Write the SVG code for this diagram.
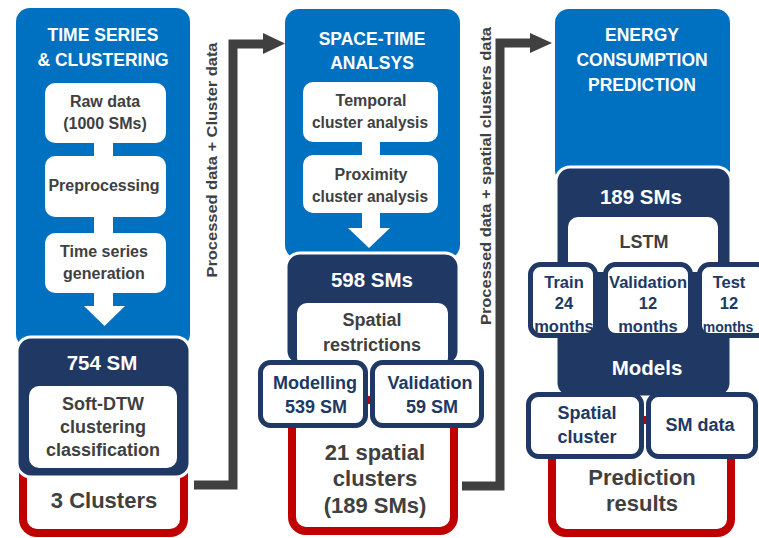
<svg xmlns="http://www.w3.org/2000/svg" width="759" height="538" viewBox="0 0 759 538">
  <defs>
    <style>
      .blue { fill: #0070C0; }
      .navy { fill: #203864; stroke: #ffffff; stroke-width: 3; }
      .red { fill: #ffffff; stroke: #C00000; stroke-width: 8; }
      .step { fill: #ffffff; }
      .sub { fill: #ffffff; stroke: #203864; stroke-width: 5; }
      .link { fill: none; stroke: #404040; stroke-width: 9; }
      .head { fill: #404040; }
      text { font-family: "Liberation Sans", Arial, sans-serif; font-weight: bold; text-anchor: middle; }
      .title { fill: #ffffff; font-size: 17.5px; }
      .count { fill: #ffffff; font-size: 20.5px; }
      .dark { fill: #404040; font-size: 16px; }
      .dark18 { fill: #404040; font-size: 18px; }
      .dsub { fill: #203864; font-size: 18px; }
      .period { fill: #203864; font-size: 16.5px; }
      .big { fill: #404040; font-size: 22px; }
      .edge { fill: #404040; font-size: 15px; }
    </style>
  </defs>

  <!-- connectors between the three stages -->
  <g id="connectors">
    <polyline class="link" points="194,485 233,485 233,44 265,44"/>
    <polygon class="head" points="263,33 285,43.5 263,54"/>
    <text class="edge" transform="translate(217,160) rotate(-90)" textLength="235" lengthAdjust="spacingAndGlyphs">Processed data + Cluster data</text>
    <polyline class="link" points="462,486 500,486 500,43 532,43"/>
    <polygon class="head" points="530,33 552,43 530,53"/>
    <text class="edge" transform="translate(491,176) rotate(-90)" textLength="298" lengthAdjust="spacingAndGlyphs">Processed data + spatial clusters data</text>
  </g>

  <!-- stage 1: time series and clustering -->
  <g id="stage-time-series">
    <rect class="blue" x="16" y="8" width="174" height="340" rx="14"/>
    <rect class="red" x="23" y="440" width="161" height="93" rx="14"/>
    <rect class="navy" x="17" y="337" width="173" height="140" rx="14"/>
    <text class="title" x="103" y="41">TIME SERIES</text>
    <text class="title" x="103" y="66">&amp; CLUSTERING</text>
    <rect class="step" x="94" y="140" width="19" height="20"/>
    <rect class="step" x="94" y="214" width="19" height="22"/>
    <rect class="step" x="94" y="290" width="19" height="17"/>
    <polygon class="step" points="84,306 125,306 104.5,326"/>
    <g id="raw-data">
      <rect class="step" x="45" y="83" width="121" height="60" rx="10"/>
      <text class="dark" x="105" y="107">Raw data</text>
      <text class="dark" x="105" y="129">(1000 SMs)</text>
    </g>
    <g id="preprocessing">
      <rect class="step" x="45" y="156" width="121" height="61" rx="10"/>
      <text class="dark" x="104" y="191">Preprocessing</text>
    </g>
    <g id="ts-generation">
      <rect class="step" x="45" y="233" width="121" height="60" rx="10"/>
      <text class="dark" x="104" y="257">Time series</text>
      <text class="dark" x="104" y="279">generation</text>
    </g>
    <text class="count" x="102" y="370">754 SM</text>
    <g id="soft-dtw">
      <rect class="step" x="29" y="386" width="148" height="82" rx="10"/>
      <text class="dark18" x="103" y="410">Soft-DTW</text>
      <text class="dark18" x="103" y="433">clustering</text>
      <text class="dark18" x="103" y="456">classification</text>
    </g>
    <text class="big" x="104" y="508">3 Clusters</text>
  </g>

  <!-- stage 2: space-time analysis -->
  <g id="stage-space-time">
    <rect class="blue" x="285" y="9" width="175" height="250" rx="14"/>
    <rect class="red" x="292" y="400" width="162" height="131" rx="14"/>
    <rect class="navy" x="286" y="253" width="173" height="112" rx="14"/>
    <text class="title" x="372" y="45">SPACE-TIME</text>
    <text class="title" x="372" y="69">ANALSYS</text>
    <rect class="step" x="362" y="139" width="18" height="19"/>
    <rect class="step" x="362" y="210" width="18" height="19"/>
    <polygon class="step" points="348,228 390,228 369,248"/>
    <g id="temporal">
      <rect class="step" x="303" y="82" width="135" height="60" rx="10"/>
      <text class="dark" x="371" y="106">Temporal</text>
      <text class="dark" x="370" y="128" textLength="116" lengthAdjust="spacingAndGlyphs">cluster analysis</text>
    </g>
    <g id="proximity">
      <rect class="step" x="303" y="155" width="135" height="58" rx="10"/>
      <text class="dark" x="371" y="180">Proximity</text>
      <text class="dark" x="370" y="202" textLength="116" lengthAdjust="spacingAndGlyphs">cluster analysis</text>
    </g>
    <text class="count" x="372" y="287">598 SMs</text>
    <g id="spatial-restrictions">
      <rect class="step" x="297" y="303" width="151" height="65" rx="10"/>
      <text class="dark18" x="372" y="326">Spatial</text>
      <text class="dark18" x="372" y="351">restrictions</text>
    </g>
    <g id="modelling">
      <rect class="sub" x="260.5" y="362.5" width="105" height="63" rx="10"/>
      <text class="dsub" x="315" y="389">Modelling</text>
      <text class="dsub" x="316" y="413">539 SM</text>
    </g>
    <g id="validation-sm">
      <rect class="sub" x="372.5" y="362.5" width="109" height="63" rx="10"/>
      <text class="dsub" x="430" y="389">Validation</text>
      <text class="dsub" x="432" y="413">59 SM</text>
    </g>
    <text class="big" x="375" y="460">21 spatial</text>
    <text class="big" x="375" y="486">clusters</text>
    <text class="big" x="375" y="513">(189 SMs)</text>
  </g>

  <!-- stage 3: energy consumption prediction -->
  <g id="stage-prediction">
    <rect class="blue" x="555" y="9" width="175" height="175" rx="14"/>
    <rect class="red" x="552" y="420" width="179" height="113" rx="14"/>
    <rect class="navy" x="556" y="167" width="175" height="230" rx="14"/>
    <text class="title" x="642" y="41">ENERGY</text>
    <text class="title" x="642" y="66">CONSUMPTION</text>
    <text class="title" x="642" y="91">PREDICTION</text>
    <text class="count" x="641" y="204">189 SMs</text>
    <g id="lstm">
      <rect class="step" x="568" y="217" width="150" height="55" rx="10"/>
      <text class="dark18" x="644" y="248">LSTM</text>
    </g>
    <g id="train">
      <rect class="sub" x="530.5" y="264.5" width="65" height="71" rx="10"/>
      <text class="period" x="564" y="288">Train</text>
      <text class="period" x="564" y="309">24</text>
      <text class="period" x="564" y="332">months</text>
    </g>
    <g id="validation-period">
      <rect class="sub" x="605.5" y="264.5" width="85" height="71" rx="10"/>
      <text class="period" x="648" y="288">Validation</text>
      <text class="period" x="648" y="309">12</text>
      <text class="period" x="648" y="332">months</text>
    </g>
    <g id="test">
      <rect class="sub" x="699.5" y="264.5" width="68" height="71" rx="10"/>
      <text class="period" x="729" y="288">Test</text>
      <text class="period" x="729" y="309">12</text>
      <text class="period" x="728" y="332" style="font-size:14px">months</text>
    </g>
    <text class="count" x="647" y="375">Models</text>
    <g id="spatial-cluster">
      <rect class="sub" x="528.5" y="394.5" width="113" height="62" rx="10"/>
      <text class="dsub" x="587" y="419">Spatial</text>
      <text class="dsub" x="587" y="443">cluster</text>
    </g>
    <g id="sm-data">
      <rect class="sub" x="648.5" y="394.5" width="107" height="62" rx="10"/>
      <text class="dsub" x="700" y="431">SM data</text>
    </g>
    <text class="big" x="642" y="485">Prediction</text>
    <text class="big" x="642" y="511">results</text>
  </g>
</svg>
